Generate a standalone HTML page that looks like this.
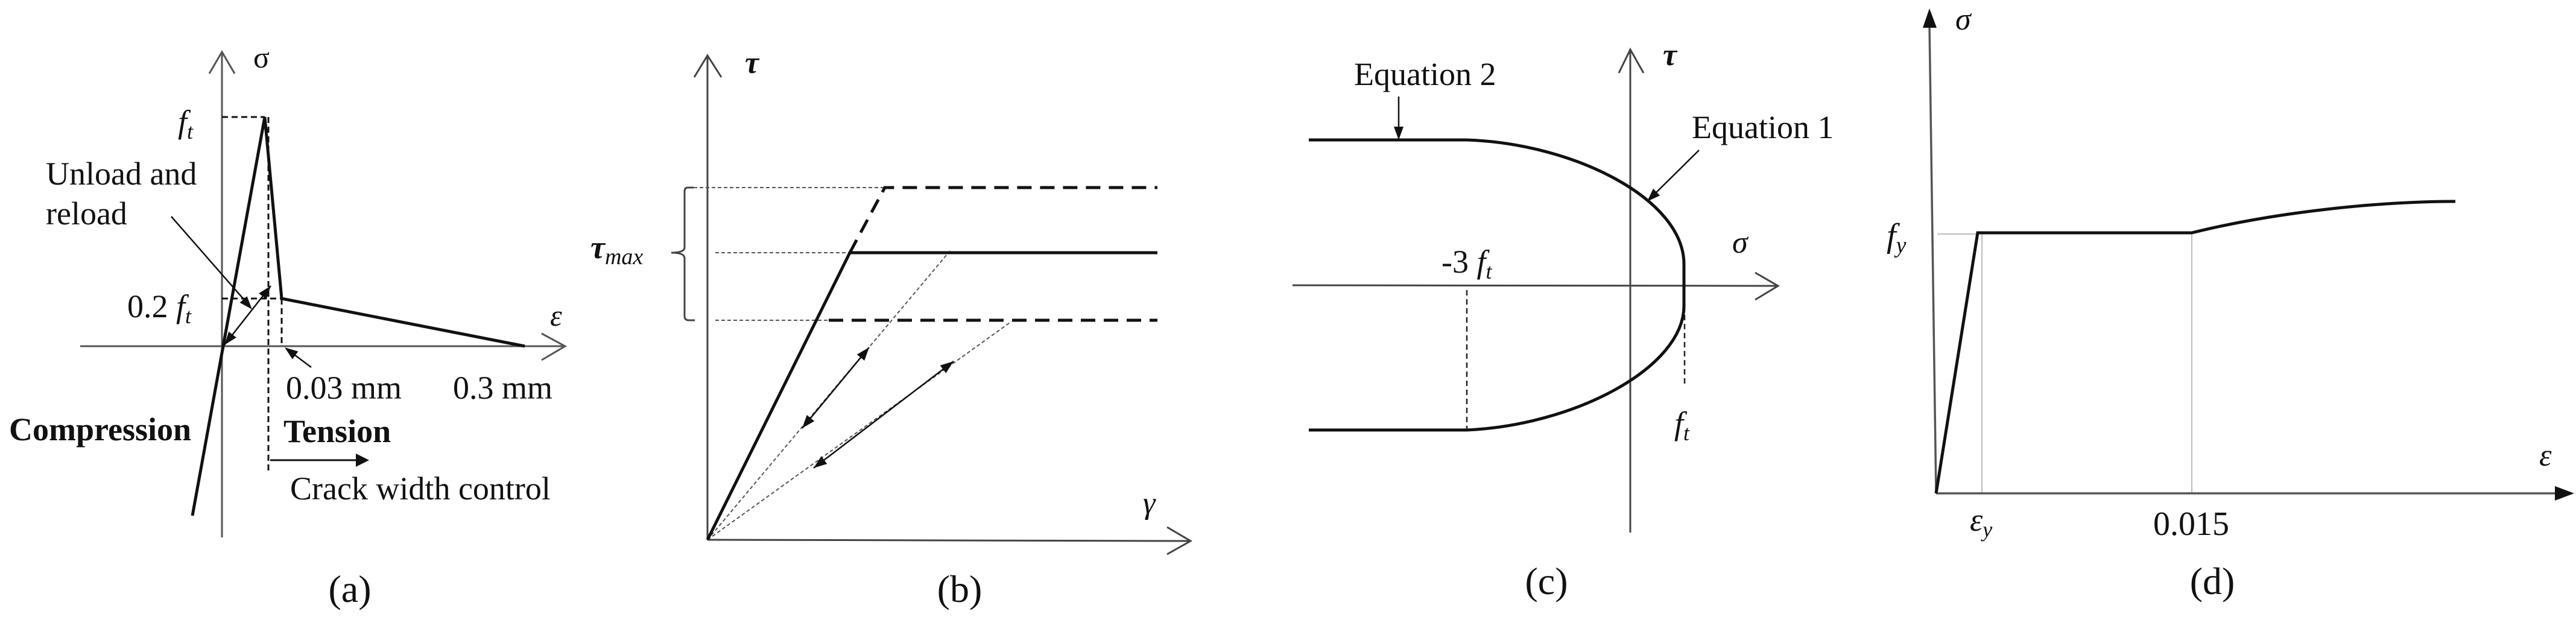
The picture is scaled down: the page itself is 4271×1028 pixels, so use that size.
<!DOCTYPE html>
<html><head><meta charset="utf-8"><style>html,body{margin:0;padding:0;background:#fff}svg{display:block}text{font-family:"Liberation Serif",serif;fill:#111}</style></head><body>
<svg width="4271" height="1028" viewBox="0 0 4271 1028" xmlns="http://www.w3.org/2000/svg">
<rect width="4271" height="1028" fill="#fff"/>
<!-- Panel (a) -->
<g stroke="#555" stroke-width="3" fill="none">
<line x1="368" y1="891" x2="368" y2="86"/><polyline points="347,122 368,86 389,122"/>
<line x1="133" y1="574" x2="937" y2="574"/><polyline points="898,553 937,574 898,597"/>
</g>
<g stroke="#111" stroke-width="3" stroke-dasharray="10,6" fill="none">
<line x1="368" y1="194" x2="439" y2="194"/><line x1="445" y1="194" x2="445" y2="780"/>
<line x1="467" y1="495" x2="467" y2="574"/><line x1="368" y1="495" x2="467" y2="495"/>
</g>
<polyline points="319,855 439,194 467,495 870,574" fill="none" stroke="#111" stroke-width="5"/>
<g stroke="#111" stroke-width="2.5"><line x1="449" y1="474" x2="372" y2="572"/><line x1="284" y1="359" x2="410" y2="503"/><line x1="516" y1="609" x2="480" y2="582"/><line x1="448" y1="763" x2="592" y2="763" stroke-width="3"/></g>
<g fill="#111"><polygon points="372,572 391.9,559.6 379.3,549.8"/><polygon points="449,474 441.7,496.2 429.1,486.4"/><polygon points="418,513 409.5,491.1 397.5,501.7"/><polygon points="472,576 494.4,582.8 484.8,595.6"/><polygon points="590,752 612,763 590,774"/></g>
<text x="420" y="112" font-size="50">σ</text>
<text x="912" y="540" font-size="50" font-style="italic">ε</text>
<text x="295" y="220" font-size="54" font-style="italic">f<tspan font-size="36" dy="10">t</tspan></text>
<text x="76" y="306" font-size="54">Unload and</text>
<text x="76" y="372" font-size="54">reload</text>
<text x="211" y="526" font-size="54">0.2 <tspan font-style="italic">f</tspan><tspan font-size="36" dy="10" font-style="italic">t</tspan></text>
<text x="474" y="661" font-size="54">0.03 mm</text>
<text x="751" y="661" font-size="54">0.3 mm</text>
<text x="15" y="730" font-size="54" font-weight="bold">Compression</text>
<text x="470" y="733" font-size="54" font-weight="bold">Tension</text>
<text x="481" y="828" font-size="54">Crack width control</text>
<text x="580" y="998" font-size="64" text-anchor="middle">(a)</text>
<!-- Panel (b) -->
<g stroke="#444" stroke-width="3" fill="none">
<line x1="1173" y1="895" x2="1173" y2="92"/><polyline points="1151,128 1173,92 1196,128"/>
<line x1="1173" y1="895" x2="1974" y2="897"/><polyline points="1935,874 1974,897 1935,919"/>
<path d="M1150,311 L1140,311 Q1135,311 1135,318 L1135,410 Q1135,419 1113,419 Q1135,419 1135,428 L1135,524 Q1135,531 1142,531 L1152,531"/>
</g>
<g stroke="#555" stroke-width="2" stroke-dasharray="6,4" fill="none">
<line x1="1150" y1="311" x2="1467" y2="311"/><line x1="1186" y1="419" x2="1409" y2="419"/><line x1="1186" y1="531" x2="1374" y2="531"/>
<line x1="1173" y1="895" x2="1575" y2="416"/><line x1="1173" y1="895" x2="1677" y2="533"/>
</g>
<g stroke="#111" stroke-width="5" fill="none">
<polyline points="1173,895 1409,419 1919,419"/>
<polyline points="1409,419 1467,311 1919,311" stroke-dasharray="24,14"/>
<line x1="1374" y1="531" x2="1919" y2="531" stroke-dasharray="24,14"/>
</g>
<g stroke="#111" stroke-width="2.5"><line x1="1441" y1="576" x2="1330" y2="710"/><line x1="1581" y1="599" x2="1349" y2="776"/></g>
<g fill="#111"><polygon points="1330,710 1350.2,698.2 1337.8,688"/><polygon points="1441,576 1433.2,598 1420.8,587.8"/><polygon points="1349,776 1371.3,769.1 1361.7,756.3"/><polygon points="1581,599 1568.3,618.7 1558.7,605.9"/></g>
<text x="1235" y="121" font-size="52" font-style="italic" font-weight="bold">τ</text>
<text x="979" y="428" font-size="54" font-style="italic" font-weight="bold">τ<tspan font-size="38" dy="10" font-weight="normal">max</tspan></text>
<text x="1895" y="851" font-size="52" font-style="italic">γ</text>
<text x="1591" y="998" font-size="64" text-anchor="middle">(b)</text>
<!-- Panel (c) -->
<g stroke="#444" stroke-width="3" fill="none">
<line x1="2703" y1="883" x2="2703" y2="82"/><polyline points="2684,121 2703,82 2725,121"/>
<line x1="2143" y1="473" x2="2948" y2="474"/><polyline points="2910,452 2948,474 2910,497"/>
</g>
<g stroke="#222" stroke-width="2.5" stroke-dasharray="9,6"><line x1="2432" y1="481" x2="2432" y2="713"/><line x1="2793" y1="507" x2="2793" y2="641"/></g>
<path d="M2170,232 L2432,232 C2610,238 2792,330 2792,438 L2792,507 C2792,610 2610,705 2432,713 L2170,713" fill="none" stroke="#111" stroke-width="5"/>
<g stroke="#111" stroke-width="2.5"><line x1="2319" y1="160" x2="2319" y2="212"/><line x1="2817" y1="249" x2="2745" y2="320"/></g>
<g fill="#111"><polygon points="2311,210 2327,210 2319,232"/><polygon points="2731,334 2752.2,324.2 2741,312.8"/></g>
<text x="2757" y="108" font-size="52" font-style="italic" font-weight="bold">τ</text>
<text x="2872" y="419" font-size="52" font-style="italic">σ</text>
<text x="2245" y="141" font-size="54">Equation 2</text>
<text x="2805" y="229" font-size="54">Equation 1</text>
<text x="2390" y="452" font-size="54">-3 <tspan font-style="italic">f</tspan><tspan font-size="36" dy="10" font-style="italic">t</tspan></text>
<text x="2776" y="720" font-size="54" font-style="italic">f<tspan font-size="36" dy="10">t</tspan></text>
<text x="2564" y="985" font-size="64" text-anchor="middle">(c)</text>
<!-- Panel (d) -->
<g stroke="#bbb" stroke-width="2" fill="none"><line x1="3212" y1="388" x2="3279" y2="388"/><line x1="3286" y1="388" x2="3286" y2="818"/><line x1="3634" y1="386" x2="3634" y2="818"/></g>
<g stroke="#555" stroke-width="3.5" fill="none"><line x1="3210" y1="818" x2="3199" y2="40"/><line x1="3210" y1="818" x2="4240" y2="818"/></g>
<g fill="#111"><polygon points="3199,14 3188,46 3211,46"/><polygon points="4268,818 4236,806 4236,830"/></g>
<path d="M3210,818 L3279,386 L3634,386 C3780,350 3950,334 4071,334" fill="none" stroke="#111" stroke-width="5"/>
<text x="3242" y="49" font-size="52" font-style="italic">σ</text>
<text x="4210" y="772" font-size="52" font-style="italic">ε</text>
<text x="3128" y="409" font-size="56" font-style="italic">f<tspan font-size="38" dy="10">y</tspan></text>
<text x="3266" y="880" font-size="54" font-style="italic">ε<tspan font-size="36" dy="10">y</tspan></text>
<text x="3570" y="887" font-size="56">0.015</text>
<text x="3668" y="985" font-size="64" text-anchor="middle">(d)</text>
</svg>
</body></html>
